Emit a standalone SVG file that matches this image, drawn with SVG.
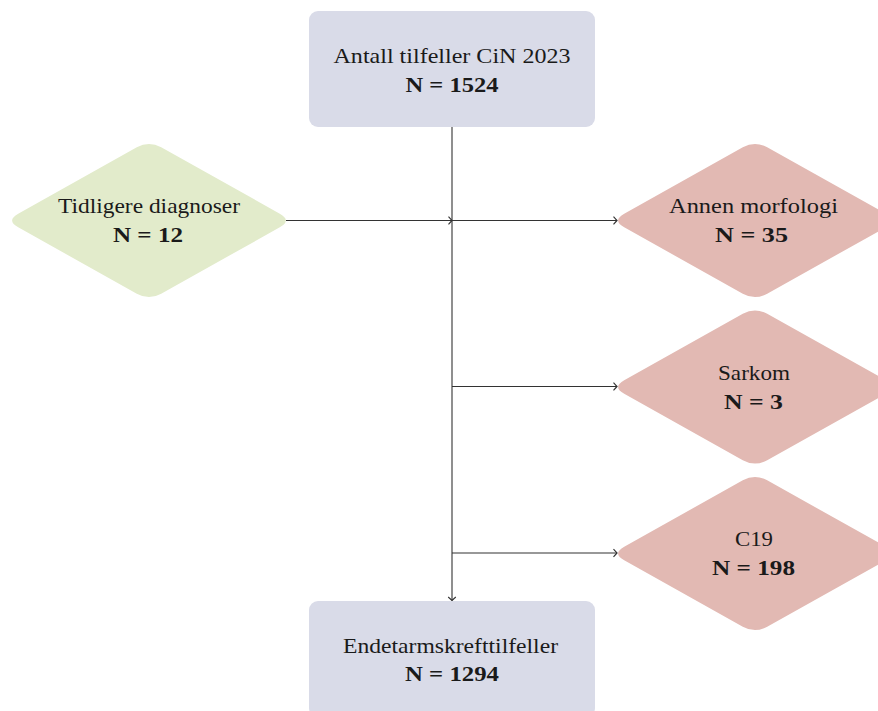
<svg xmlns="http://www.w3.org/2000/svg" xmlns:xlink="http://www.w3.org/1999/xlink" width="878" height="711" viewBox="0 0 878 711">
<style>
.box{fill:#d9dbe8}
.green{fill:#e2ebcb}
.pink{fill:#e2b9b3}
.t{font-family:"Liberation Serif","Times New Roman",serif;font-size:22px;fill:#1a1a1a;text-anchor:middle}
.b{font-weight:bold}
.edge{stroke:#333;stroke-width:1.1;fill:none;marker-end:url(#arr)}
</style>
<defs>
<marker id="arr" markerUnits="userSpaceOnUse" markerWidth="12" markerHeight="12" refX="0" refY="0" viewBox="-6 -6 12 12" orient="auto" overflow="visible">
<path d="M -3.5,-3.8 Q -1,-1 0,0 Q -1,1 -3.5,3.8" fill="none" stroke="#333" stroke-width="1.1"/>
</marker>
<path id="dia" d="M -12.2,-73.17 Q 0,-80 12.2,-73.17 L 130.8,-6.83 Q 143,0 130.8,6.83 L 12.2,73.17 Q 0,80 -12.2,73.17 L -130.8,6.83 Q -143,0 -130.8,-6.83 Z"/>
</defs>
<g id="connectors">
<line class="edge" x1="452" y1="127" x2="452" y2="600.5"/>
<line class="edge" x1="286" y1="220.5" x2="452" y2="220.5"/>
<line class="edge" x1="452" y1="220.5" x2="617" y2="220.5"/>
<line class="edge" x1="452" y1="386.5" x2="617" y2="386.5"/>
<line class="edge" x1="452" y1="553" x2="617" y2="553"/>
</g>
<g id="n-total">
<rect class="box" x="309" y="11" width="286" height="116" rx="9"/>
<text class="t" x="452" y="63" textLength="237" lengthAdjust="spacingAndGlyphs">Antall tilfeller CiN 2023</text>
<text class="t b" x="452" y="92" textLength="93" lengthAdjust="spacingAndGlyphs">N = 1524</text>
</g>
<g id="n-tidligere">
<use xlink:href="#dia" href="#dia" x="149" y="220.5" class="green"/>
<text class="t" x="149" y="213" textLength="182" lengthAdjust="spacingAndGlyphs">Tidligere diagnoser</text>
<text class="t b" x="148" y="242" textLength="70" lengthAdjust="spacingAndGlyphs">N = 12</text>
</g>
<g id="n-annen">
<use xlink:href="#dia" href="#dia" x="755" y="220.5" class="pink"/>
<text class="t" x="753.5" y="213" textLength="169" lengthAdjust="spacingAndGlyphs">Annen morfologi</text>
<text class="t b" x="751.5" y="242" textLength="73" lengthAdjust="spacingAndGlyphs">N = 35</text>
</g>
<g id="n-sarkom">
<use xlink:href="#dia" href="#dia" x="755" y="387" class="pink"/>
<text class="t" x="754" y="380" textLength="72" lengthAdjust="spacingAndGlyphs">Sarkom</text>
<text class="t b" x="753.5" y="409" textLength="59" lengthAdjust="spacingAndGlyphs">N = 3</text>
</g>
<g id="n-c19">
<use xlink:href="#dia" href="#dia" x="755" y="553.5" class="pink"/>
<text class="t" x="754" y="546" textLength="38" lengthAdjust="spacingAndGlyphs">C19</text>
<text class="t b" x="753.5" y="575" textLength="83" lengthAdjust="spacingAndGlyphs">N = 198</text>
</g>
<g id="n-endetarm">
<rect class="box" x="309" y="601" width="286" height="116" rx="9"/>
<text class="t" x="450.5" y="653" textLength="215" lengthAdjust="spacingAndGlyphs">Endetarmskrefttilfeller</text>
<text class="t b" x="452" y="681" textLength="94" lengthAdjust="spacingAndGlyphs">N = 1294</text>
</g>
</svg>
